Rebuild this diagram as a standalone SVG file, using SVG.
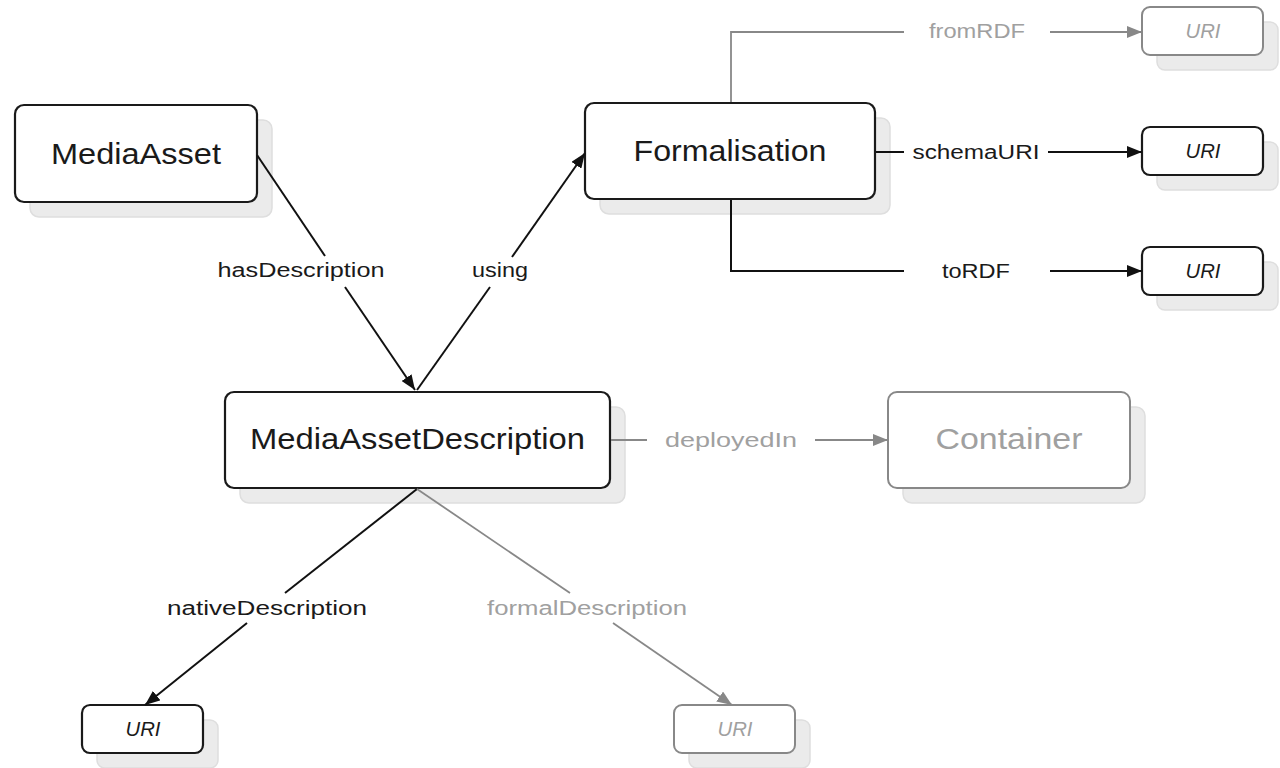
<svg xmlns="http://www.w3.org/2000/svg" width="1280" height="768" viewBox="0 0 1280 768">
<defs>
<marker id="ab" markerUnits="userSpaceOnUse" markerWidth="16" markerHeight="12" refX="15" refY="6" orient="auto"><path d="M0,0 L15,6 L0,12 z" fill="#111"/></marker>
<marker id="ag" markerUnits="userSpaceOnUse" markerWidth="16" markerHeight="12" refX="15" refY="6" orient="auto"><path d="M0,0 L15,6 L0,12 z" fill="#888"/></marker>
<style>
.sh{fill:#ebebeb;stroke:#dedede;stroke-width:1.5}
.bx{fill:#fff;stroke:#1a1a1a;stroke-width:2.2}
.bg{fill:#fff;stroke:#888;stroke-width:2}
.t{font-family:"Liberation Sans",Arial,sans-serif;text-anchor:middle;fill:#1a1a1a}
.big{font-size:29px}
.lab{font-size:20px}
.uri{font-size:21px;font-style:italic}
.g{fill:#a0a0a0}
.cb{fill:none;stroke:#111;stroke-width:2}
.cg{fill:none;stroke:#888;stroke-width:1.8}
</style>
</defs>
<rect width="1280" height="768" fill="#fff"/>
<g id="mediaAsset">
<rect class="sh" x="30" y="120" width="242" height="97" rx="9"/>
<rect class="bx" x="15" y="105" width="242" height="97" rx="9"/>
<text class="t big" x="136" y="164" textLength="170" lengthAdjust="spacingAndGlyphs">MediaAsset</text>
</g>
<g id="formalisation">
<rect class="sh" x="600" y="118" width="290" height="96" rx="9"/>
<rect class="bx" x="585" y="103" width="290" height="96" rx="9"/>
<text class="t big" x="730" y="161" textLength="193" lengthAdjust="spacingAndGlyphs">Formalisation</text>
</g>
<g id="mediaAssetDescription">
<rect class="sh" x="240" y="407" width="385" height="96" rx="9"/>
<rect class="bx" x="225" y="392" width="385" height="96" rx="9"/>
<text class="t big" x="417.5" y="449" textLength="335" lengthAdjust="spacingAndGlyphs">MediaAssetDescription</text>
</g>
<g id="container">
<rect class="sh" x="903" y="407" width="242" height="96" rx="9"/>
<rect class="bg" x="888" y="392" width="242" height="96" rx="9"/>
<text class="t big g" x="1009" y="449" textLength="147" lengthAdjust="spacingAndGlyphs">Container</text>
</g>
<g id="uriFromRDF">
<rect class="sh" x="1157" y="22" width="121" height="48" rx="8"/>
<rect class="bg" x="1142" y="7" width="121" height="48" rx="8"/>
<text class="t uri g" x="1203" y="38" textLength="35" lengthAdjust="spacingAndGlyphs">URI</text>
</g>
<g id="uriSchema">
<rect class="sh" x="1157" y="142" width="121" height="48" rx="8"/>
<rect class="bx" x="1142" y="127" width="121" height="48" rx="8"/>
<text class="t uri" x="1203" y="158" textLength="35" lengthAdjust="spacingAndGlyphs">URI</text>
</g>
<g id="uriToRDF">
<rect class="sh" x="1157" y="262" width="121" height="48" rx="8"/>
<rect class="bx" x="1142" y="247" width="121" height="48" rx="8"/>
<text class="t uri" x="1203" y="278" textLength="35" lengthAdjust="spacingAndGlyphs">URI</text>
</g>
<g id="uriNative">
<rect class="sh" x="97" y="720" width="121" height="48" rx="8"/>
<rect class="bx" x="82" y="705" width="121" height="48" rx="8"/>
<text class="t uri" x="143" y="736" textLength="35" lengthAdjust="spacingAndGlyphs">URI</text>
</g>
<g id="uriFormal">
<rect class="sh" x="689" y="720" width="121" height="48" rx="8"/>
<rect class="bg" x="674" y="705" width="121" height="48" rx="8"/>
<text class="t uri g" x="735" y="736" textLength="35" lengthAdjust="spacingAndGlyphs">URI</text>
</g>
<g id="connectors">
<path class="cb" d="M257,155 L325,256"/>
<path class="cb" d="M345,287 L415,390" marker-end="url(#ab)"/>
<path class="cb" d="M417,390 L490,287"/>
<path class="cb" d="M512,257 L585,153" marker-end="url(#ab)"/>
<path class="cb" d="M417,489 L285,593"/>
<path class="cb" d="M247,623 L145,705" marker-end="url(#ab)"/>
<path class="cg" d="M417,489 L570,593"/>
<path class="cg" d="M613,623 L732,705" marker-end="url(#ag)"/>
<path class="cg" d="M611,440 L647,440"/>
<path class="cg" d="M815,440 L888,440" marker-end="url(#ag)"/>
<path class="cg" d="M731,102 L731,32 L904,32"/>
<path class="cg" d="M1050,32 L1142,32" marker-end="url(#ag)"/>
<path class="cb" d="M876,152 L904,152"/>
<path class="cb" d="M1048,152 L1142,152" marker-end="url(#ab)"/>
<path class="cb" d="M731,200 L731,271 L904,271"/>
<path class="cb" d="M1050,271 L1142,271" marker-end="url(#ab)"/>
<text class="t lab" x="301" y="277" textLength="167" lengthAdjust="spacingAndGlyphs">hasDescription</text>
<text class="t lab" x="500" y="277" textLength="56" lengthAdjust="spacingAndGlyphs">using</text>
<text class="t lab" x="267" y="615" textLength="200" lengthAdjust="spacingAndGlyphs">nativeDescription</text>
<text class="t lab g" x="587" y="615" textLength="200" lengthAdjust="spacingAndGlyphs">formalDescription</text>
<text class="t lab g" x="731" y="447" textLength="132" lengthAdjust="spacingAndGlyphs">deployedIn</text>
<text class="t lab g" x="977" y="38" textLength="96" lengthAdjust="spacingAndGlyphs">fromRDF</text>
<text class="t lab" x="976" y="159" textLength="127" lengthAdjust="spacingAndGlyphs">schemaURI</text>
<text class="t lab" x="976" y="278" textLength="68" lengthAdjust="spacingAndGlyphs">toRDF</text>
</g>
</svg>
